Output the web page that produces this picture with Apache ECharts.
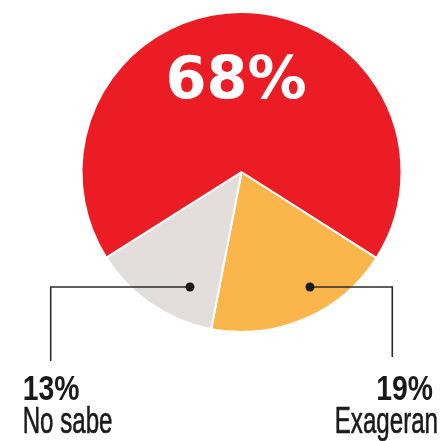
<!DOCTYPE html>
<html>
<head>
<meta charset="utf-8">
<script src="https://cdn.jsdelivr.net/npm/echarts@6/dist/echarts.min.js"></script>
<style>html,body{margin:0;padding:0;background:#fff}#c{width:441px;height:441px}</style>
</head>
<body>
<div id="c"></div>
<script>
const categories = ['Exageran', 'No sabe', 'Otros'];
const values = [19, 13, 68];
const colors = ['#fbb64b', '#e3dedb', '#ec1c24'];

const chart = echarts.init(document.getElementById('c'), null, {renderer: 'canvas'});
const sideFont = '"Liberation Sans", Arial, sans-serif';
const Z = 100;
chart.setOption({
  animation: false,
  backgroundColor: '#ffffff',
  series: [{
    type: 'pie',
    z: 1,
    center: [241.5, 172],
    radius: [0, 160],
    startAngle: 327.5,
    clockwise: true,
    label: {show: false},
    labelLine: {show: false},
    itemStyle: {borderColor: '#ffffff', borderWidth: 2},
    emphasis: {disabled: true},
    data: categories.map((c, i) => ({name: c, value: values[i], itemStyle: {color: colors[i]}}))
  }],
  graphic: [
    {type: 'text', z: Z, x: 236, y: 83, style: {text: values[2] + '%', fill: '#ffffff', font: 'bold 59px "DejaVu Sans", sans-serif', align: 'center', verticalAlign: 'middle'}},
    {type: 'polyline', z: Z, shape: {points: [[190, 287], [50.7, 287], [50.7, 361]]}, style: {stroke: '#2b2b2b', lineWidth: 1.6, fill: null}},
    {type: 'polyline', z: Z, shape: {points: [[310, 287], [392.3, 287], [392.3, 357]]}, style: {stroke: '#2b2b2b', lineWidth: 1.6, fill: null}},
    {type: 'circle', z: Z, shape: {cx: 190, cy: 287, r: 4.5}, style: {fill: '#1a1a1a'}},
    {type: 'circle', z: Z, shape: {cx: 310, cy: 287, r: 4.5}, style: {fill: '#1a1a1a'}},
    {type: 'text', z: Z, x: 22.7, y: 390.5, scaleX: 0.81, style: {text: values[1] + '%', fill: '#1a1a1a', font: 'bold 35px ' + sideFont, align: 'left', verticalAlign: 'middle'}},
    {type: 'text', z: Z, x: 22.7, y: 423.5, scaleX: 0.67, style: {text: categories[1], fill: '#1a1a1a', font: '36px ' + sideFont, align: 'left', verticalAlign: 'middle', stroke: '#1a1a1a', lineWidth: 0.6}},
    {type: 'text', z: Z, x: 433, y: 390.5, scaleX: 0.81, style: {text: values[0] + '%', fill: '#1a1a1a', font: 'bold 35px ' + sideFont, align: 'right', verticalAlign: 'middle'}},
    {type: 'text', z: Z, x: 438, y: 423.5, scaleX: 0.67, style: {text: categories[0], fill: '#1a1a1a', font: '36px ' + sideFont, align: 'right', verticalAlign: 'middle', stroke: '#1a1a1a', lineWidth: 0.6}}
  ]
});
</script>
</body>
</html>
